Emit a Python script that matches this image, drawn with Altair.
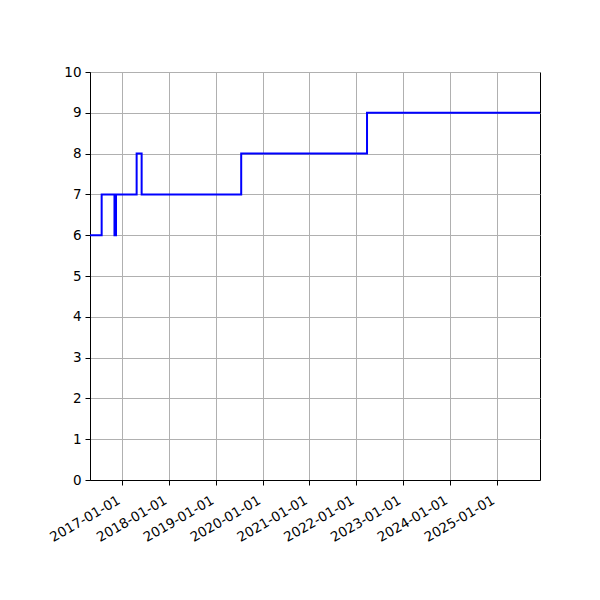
import altair as alt
import pandas as pd

dates = ["2016-04-24", "2016-07-24", "2016-11-01", "2016-11-13", "2017-04-23",
         "2017-06-01", "2019-07-18", "2022-03-26", "2025-12-05"]
values = [6, 7, 6, 7, 8, 7, 8, 9, 9]
tick_years = [2017, 2018, 2019, 2020, 2021, 2022, 2023, 2024, 2025]
y_ticks = list(range(0, 11))

df = pd.DataFrame({"date": dates, "value": values})

FONT = "DejaVu Sans"

chart = alt.Chart(df).mark_line(
    interpolate="step-after", color="#0000ff", strokeWidth=2
).encode(
    x=alt.X("date:T",
            scale=alt.Scale(type="utc", nice=False,
                            domain=[alt.DateTime(year=2016, month=4, date=24, utc=True),
                                    alt.DateTime(year=2025, month=12, date=5, utc=True)]),
            axis=alt.Axis(title=None,
                          labelExpr="utcFormat(datum.value, '%Y-%m-%d')",
                          values=[alt.DateTime(year=y, month=1, date=1, utc=True) for y in tick_years],
                          labelAngle=-30, labelAlign="right", labelBaseline="top",
                          labelPadding=8, labelOffset=-7)),
    y=alt.Y("value:Q",
            scale=alt.Scale(domain=[0, 10], nice=False, zero=True),
            axis=alt.Axis(title=None, values=y_ticks, labelPadding=4)),
).properties(
    width=450, height=408,
    autosize=alt.AutoSizeParams(type="none"),
    padding={"left": 82, "top": 64, "right": 52, "bottom": 112},
).configure_axis(
    grid=True, gridColor="#b0b0b0", gridWidth=1, gridOpacity=1,
    domainColor="black", domainWidth=1,
    tickColor="black", tickSize=5, tickWidth=1,
    labelFont=FONT, labelFontSize=13.5, labelColor="black",
    labelOverlap=False, labelFlush=False,
).configure_view(
    stroke="black", strokeWidth=1
)

chart.save("out.html", embed_options={"renderer": "svg", "actions": False})
